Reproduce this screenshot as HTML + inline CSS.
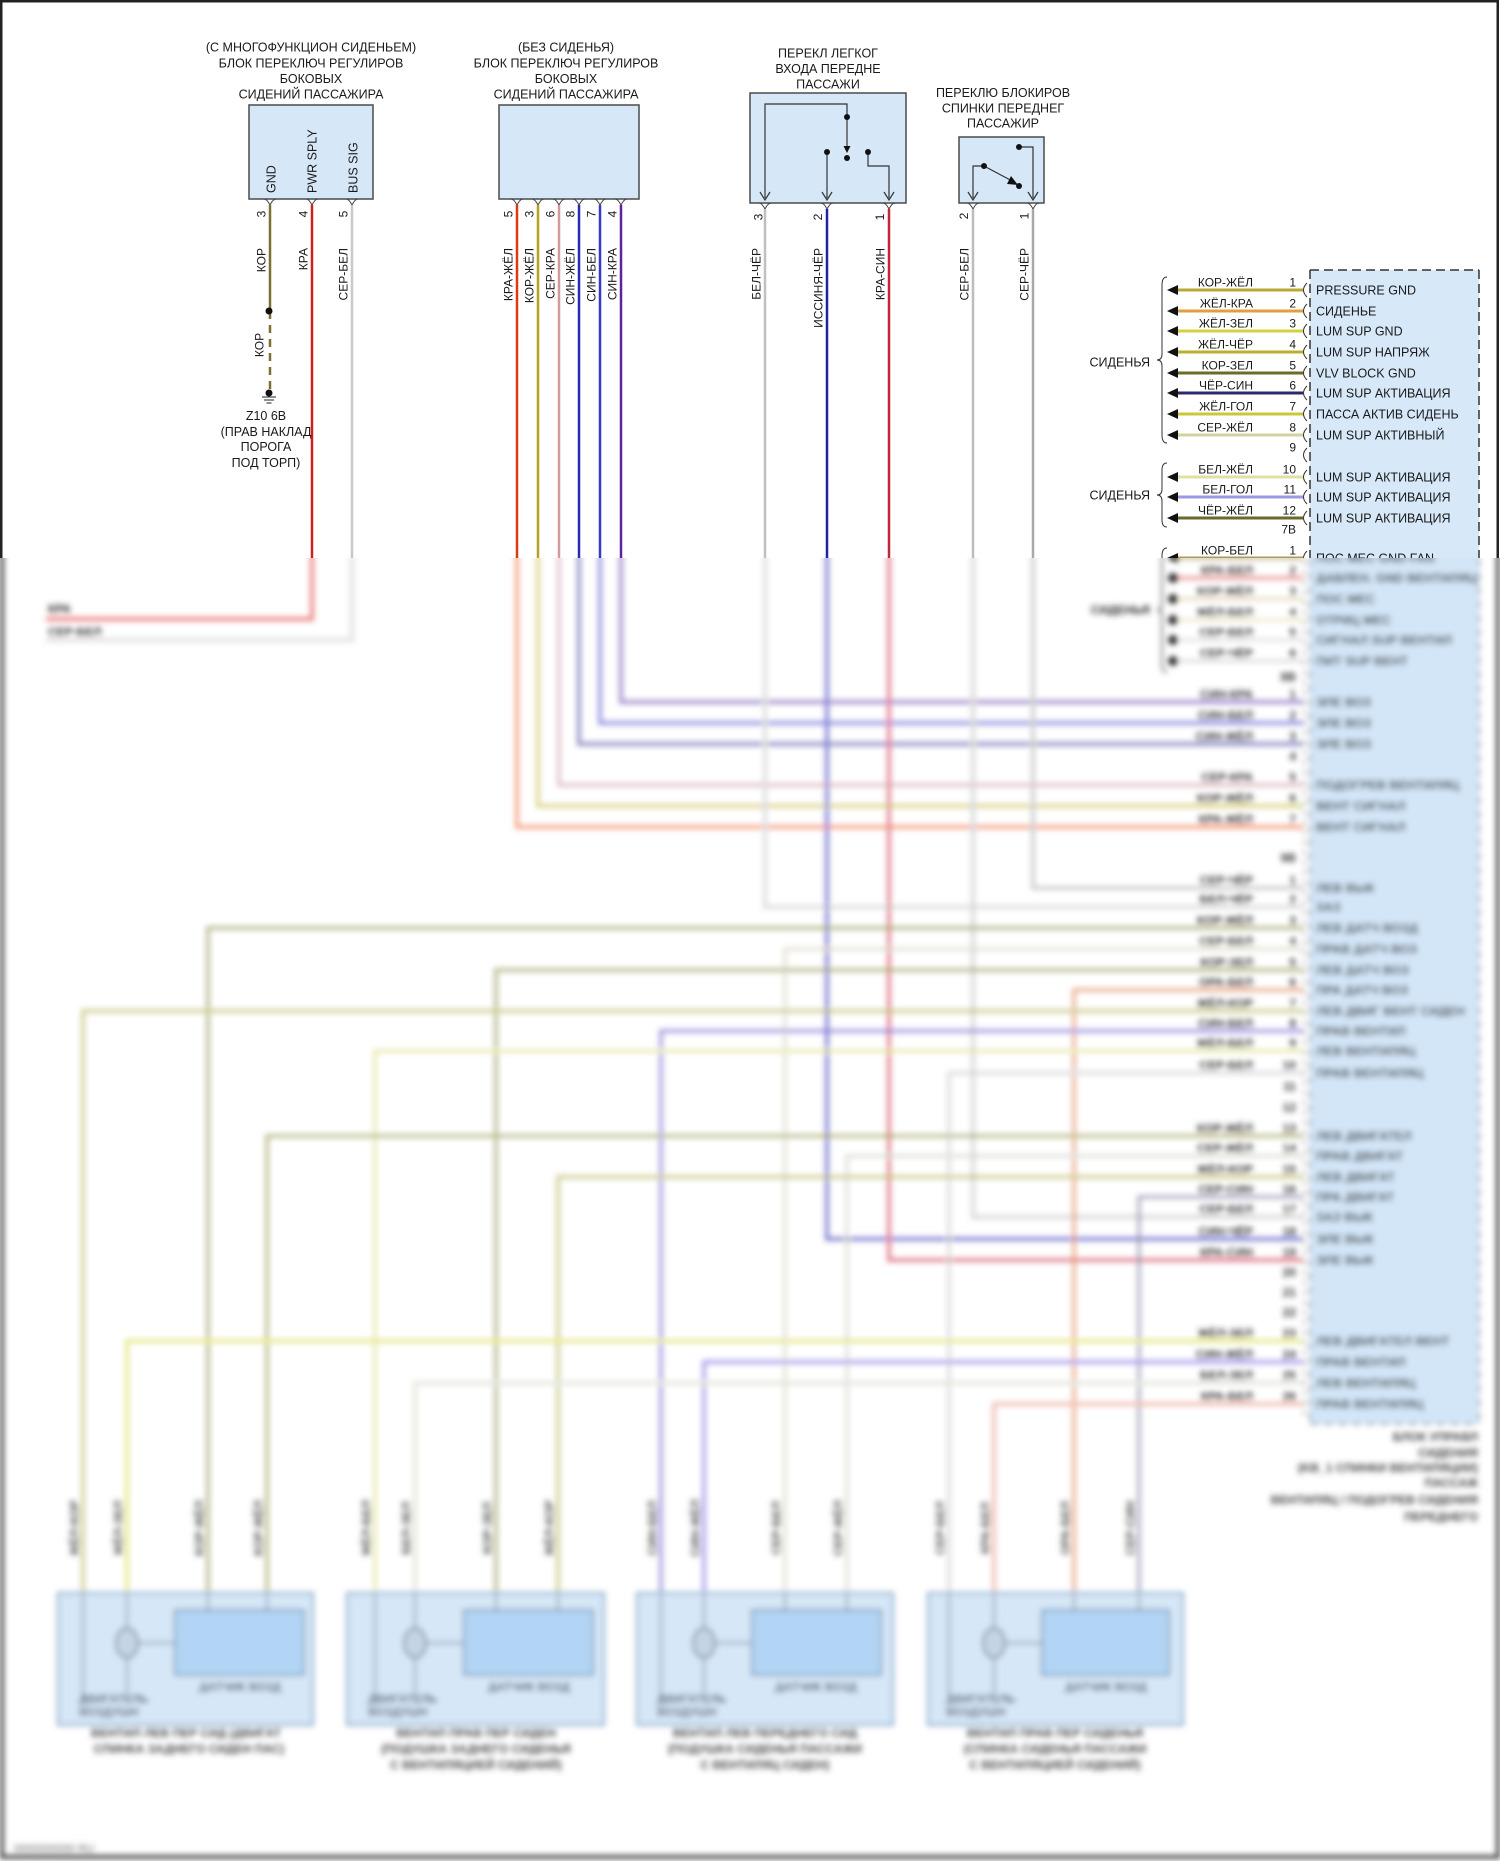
<!DOCTYPE html>
<html><head><meta charset="utf-8"><style>
html,body{margin:0;padding:0;background:#fff;width:1500px;height:1861px;overflow:hidden}
svg{display:block}
</style></head><body>
<svg width="1500" height="1861" viewBox="0 0 1500 1861" xmlns="http://www.w3.org/2000/svg" font-family="'Liberation Sans', 'DejaVu Sans', sans-serif">
<defs>
<clipPath id="ct"><rect x="0" y="0" width="1500" height="558"/></clipPath>
<clipPath id="cb"><rect x="0" y="558" width="1500" height="1303"/></clipPath>
<filter id="bl" x="-2%" y="-2%" width="104%" height="104%"><feGaussianBlur stdDeviation="2.9"/></filter>
</defs>
<rect width="1500" height="1861" fill="#fff"/>

<!-- ================= TOP (crisp) ================= -->
<g clip-path="url(#ct)">
<g font-size="12.5" fill="#1a1a1a" text-anchor="middle">
<text x="311" y="51.5">(С МНОГОФУНКЦИОН СИДЕНЬЕМ)</text>
<text x="311" y="67.5">БЛОК ПЕРЕКЛЮЧ РЕГУЛИРОВ</text>
<text x="311" y="83">БОКОВЫХ</text>
<text x="311" y="98.5">СИДЕНИЙ ПАССАЖИРА</text>
<text x="566" y="51.5">(БЕЗ СИДЕНЬЯ)</text>
<text x="566" y="67.5">БЛОК ПЕРЕКЛЮЧ РЕГУЛИРОВ</text>
<text x="566" y="83">БОКОВЫХ</text>
<text x="566" y="98.5">СИДЕНИЙ ПАССАЖИРА</text>
<text x="828" y="57.5">ПЕРЕКЛ ЛЕГКОГ</text>
<text x="828" y="73">ВХОДА ПЕРЕДНЕ</text>
<text x="828" y="88.5">ПАССАЖИ</text>
<text x="1003" y="97">ПЕРЕКЛЮ БЛОКИРОВ</text>
<text x="1003" y="112.5">СПИНКИ ПЕРЕДНЕГ</text>
<text x="1003" y="127.5">ПАССАЖИР</text>
</g>
<g fill="#d6e8f8" stroke="#4a4a4a" stroke-width="1.5">
<rect x="249" y="105" width="124" height="94"/>
<rect x="499" y="105" width="140" height="94"/>
<rect x="750" y="93" width="156" height="110"/>
<rect x="959" y="137" width="85" height="66"/>
</g>
<g font-size="12.5" fill="#1a1a1a">
<text transform="translate(275.3,193) rotate(-90)">GND</text>
<text transform="translate(316.3,193) rotate(-90)">PWR SPLY</text>
<text transform="translate(357.3,193) rotate(-90)">BUS SIG</text>
</g>
<g stroke="#333" stroke-width="1.2" fill="none">
<polyline points="765,198 765,104 847,104 847,117"/>
<line x1="847" y1="117" x2="847" y2="148"/>
<line x1="827" y1="152" x2="827" y2="198"/>
<polyline points="868,152 868,166 889,166 889,198"/>
<path d="M760,192 L765,200 L770,192 M822,192 L827,200 L832,192 M884,192 L889,200 L894,192"/>
<polyline points="1019,147 1033,147 1033,198"/>
<polyline points="973,198 973,166 984,166"/>
<line x1="984" y1="166" x2="1014" y2="182"/>
<path d="M968,192 L973,200 L978,192 M1028,192 L1033,200 L1038,192"/>
</g>
<g fill="#111">
<circle cx="847" cy="117" r="3"/><circle cx="847" cy="158" r="3"/>
<polygon points="843.5,146 850.5,146 847,153"/>
<circle cx="827" cy="152" r="3"/><circle cx="868" cy="152" r="3"/>
<circle cx="1019" cy="147" r="3"/><circle cx="984" cy="166" r="3"/><circle cx="1019" cy="186" r="3"/>
<polygon points="1011,176 1018,185 1007,184"/>
</g>
<g stroke="#444" stroke-width="1" fill="none">
<path d="M264,199 q3,0 6,6 q3,-6 6,-6 M306,199 q3,0 6,6 q3,-6 6,-6 M346,199 q3,0 6,6 q3,-6 6,-6"/>
<path d="M511,199 q3,0 6,6 q3,-6 6,-6 M532,199 q3,0 6,6 q3,-6 6,-6 M553,199 q3,0 6,6 q3,-6 6,-6 M573,199 q3,0 6,6 q3,-6 6,-6 M594,199 q3,0 6,6 q3,-6 6,-6 M615,199 q3,0 6,6 q3,-6 6,-6"/>
<path d="M759,203 q3,0 6,6 q3,-6 6,-6 M821,203 q3,0 6,6 q3,-6 6,-6 M883,203 q3,0 6,6 q3,-6 6,-6 M967,203 q3,0 6,6 q3,-6 6,-6 M1027,203 q3,0 6,6 q3,-6 6,-6"/>
</g>
<g stroke-width="2.5" fill="none">
<line x1="270" y1="205" x2="270" y2="311" stroke="#7d7035"/>
<line x1="270" y1="311" x2="270" y2="393" stroke="#7d7035" stroke-dasharray="8 6"/>
<line x1="312" y1="205" x2="312" y2="600" stroke="#d0201c"/>
<line x1="352" y1="205" x2="352" y2="600" stroke="#c8c8c8"/>
<line x1="517" y1="205" x2="517" y2="600" stroke="#dd3a10"/>
<line x1="538" y1="205" x2="538" y2="600" stroke="#b8a020"/>
<line x1="559" y1="205" x2="559" y2="600" stroke="#d49a9a"/>
<line x1="579" y1="205" x2="579" y2="600" stroke="#2a2ab0"/>
<line x1="600" y1="205" x2="600" y2="600" stroke="#3838c8"/>
<line x1="621" y1="205" x2="621" y2="600" stroke="#6020a0"/>
<line x1="765" y1="209" x2="765" y2="600" stroke="#c0c0c0"/>
<line x1="827" y1="209" x2="827" y2="600" stroke="#2020a8"/>
<line x1="889" y1="209" x2="889" y2="600" stroke="#c0283c"/>
<line x1="973" y1="209" x2="973" y2="600" stroke="#bdbdbd"/>
<line x1="1033" y1="209" x2="1033" y2="600" stroke="#a8a8a8"/>
</g>
<g fill="#111"><circle cx="269" cy="311" r="3.5"/><circle cx="269" cy="393" r="3.5"/></g>
<g stroke="#222" stroke-width="1"><line x1="262" y1="397" x2="276" y2="397"/><line x1="264" y1="400" x2="274" y2="400"/><line x1="266.5" y1="403" x2="271.5" y2="403"/></g>
<g font-size="12.5" fill="#1a1a1a" text-anchor="middle">
<text x="266" y="420">Z10 6B</text>
<text x="266" y="436">(ПРАВ НАКЛАД</text>
<text x="266" y="451">ПОРОГА</text>
<text x="266" y="467">ПОД ТОРП)</text>
</g>
<g font-size="12" fill="#1a1a1a" text-anchor="middle">
<text transform="translate(265.5,214) rotate(-90)">3</text>
<text transform="translate(307.5,214) rotate(-90)">4</text>
<text transform="translate(347.5,214) rotate(-90)">5</text>
<text transform="translate(512.5,214) rotate(-90)">5</text>
<text transform="translate(533.5,214) rotate(-90)">3</text>
<text transform="translate(554.5,214) rotate(-90)">6</text>
<text transform="translate(574.5,214) rotate(-90)">8</text>
<text transform="translate(595.5,214) rotate(-90)">7</text>
<text transform="translate(616.5,214) rotate(-90)">4</text>
<text transform="translate(762.5,217) rotate(-90)">3</text>
<text transform="translate(822,217) rotate(-90)">2</text>
<text transform="translate(884,217) rotate(-90)">1</text>
<text transform="translate(968,216) rotate(-90)">2</text>
<text transform="translate(1028.5,216) rotate(-90)">1</text>
</g>
<g font-size="12" fill="#1a1a1a" text-anchor="end">
<text transform="translate(265.5,248) rotate(-90)">КОР</text>
<text transform="translate(307.5,248) rotate(-90)">КРА</text>
<text transform="translate(347.5,248) rotate(-90)">СЕР-БЕЛ</text>
<text transform="translate(512.5,248) rotate(-90)">КРА-ЖЁЛ</text>
<text transform="translate(533.5,248) rotate(-90)">КОР-ЖЁЛ</text>
<text transform="translate(554.5,248) rotate(-90)">СЕР-КРА</text>
<text transform="translate(574.5,248) rotate(-90)">СИН-ЖЁЛ</text>
<text transform="translate(595.5,248) rotate(-90)">СИН-БЕЛ</text>
<text transform="translate(616.5,248) rotate(-90)">СИН-КРА</text>
<text transform="translate(760.5,248) rotate(-90)">БЕЛ-ЧЁР</text>
<text transform="translate(822.5,248) rotate(-90)">ИССИНЯ-ЧЁР</text>
<text transform="translate(884.5,248) rotate(-90)">КРА-СИН</text>
<text transform="translate(968.5,248) rotate(-90)">СЕР-БЕЛ</text>
<text transform="translate(1028.5,248) rotate(-90)">СЕР-ЧЁР</text>
</g>
<text transform="translate(263.5,345) rotate(-90)" font-size="12" fill="#1a1a1a" text-anchor="middle">КОР</text>

<rect x="1310" y="270" width="169" height="300" fill="#d7e9f9"/>
<g stroke="#333" stroke-width="1.5" stroke-dasharray="9 5" fill="none">
<line x1="1310" y1="270" x2="1479" y2="270"/>
<line x1="1310" y1="270" x2="1310" y2="570"/>
<line x1="1479" y1="270" x2="1479" y2="570"/>
</g>
<g stroke-width="3" fill="none">
<line x1="1176" y1="290" x2="1303" y2="290" stroke="#b8a838"/>
<line x1="1176" y1="311" x2="1303" y2="311" stroke="#e0a040"/>
<line x1="1176" y1="331" x2="1303" y2="331" stroke="#d4d040"/>
<line x1="1176" y1="352" x2="1303" y2="352" stroke="#b8b030"/>
<line x1="1176" y1="373" x2="1303" y2="373" stroke="#6b6b2a"/>
<line x1="1176" y1="393" x2="1303" y2="393" stroke="#2a2a6a"/>
<line x1="1176" y1="414" x2="1303" y2="414" stroke="#c8c838"/>
<line x1="1176" y1="435" x2="1303" y2="435" stroke="#d2d2a0"/>
<line x1="1176" y1="477" x2="1303" y2="477" stroke="#e0e0a0"/>
<line x1="1176" y1="497" x2="1303" y2="497" stroke="#9a9ae0"/>
<line x1="1176" y1="518" x2="1303" y2="518" stroke="#6a6a2a"/>
<line x1="1176" y1="558" x2="1303" y2="558" stroke="#a89a60"/>
</g>
<g fill="#111">
<polygon points="1167,290 1178,285 1178,295"/>
<polygon points="1167,311 1178,306 1178,316"/>
<polygon points="1167,331 1178,326 1178,336"/>
<polygon points="1167,352 1178,347 1178,357"/>
<polygon points="1167,373 1178,368 1178,378"/>
<polygon points="1167,393 1178,388 1178,398"/>
<polygon points="1167,414 1178,409 1178,419"/>
<polygon points="1167,435 1178,430 1178,440"/>
<polygon points="1167,477 1178,472 1178,482"/>
<polygon points="1167,497 1178,492 1178,502"/>
<polygon points="1167,518 1178,513 1178,523"/>
<polygon points="1167,558 1178,553 1178,563"/>
</g>
<g stroke="#333" stroke-width="1" fill="none">
<path d="M1307,283 Q1300,290 1307,297 M1307,304 Q1300,311 1307,318 M1307,324 Q1300,331 1307,338 M1307,345 Q1300,352 1307,359 M1307,366 Q1300,373 1307,380 M1307,386 Q1300,393 1307,400 M1307,407 Q1300,414 1307,421 M1307,428 Q1300,435 1307,442 M1307,448 Q1300,455 1307,462 M1307,470 Q1300,477 1307,484 M1307,490 Q1300,497 1307,504 M1307,511 Q1300,518 1307,525 M1307,551 Q1300,558 1307,565"/>
<path d="M1167,277 Q1162,277 1162,285 L1162,354 Q1162,360 1157,360 Q1162,360 1162,366 L1162,435 Q1162,443 1167,443"/>
<path d="M1167,463 Q1162,463 1162,470 L1162,489 Q1162,495 1157,495 Q1162,495 1162,501 L1162,520 Q1162,527 1167,527"/>
<path d="M1167,548 Q1162,548 1162,556 L1162,604"/>
</g>
<g font-size="12" fill="#1a1a1a">
<text x="1150" y="366.5" text-anchor="end" font-size="12.5">СИДЕНЬЯ</text>
<text x="1150" y="499.5" text-anchor="end" font-size="12.5">СИДЕНЬЯ</text>
<g text-anchor="end">
<text x="1253" y="286.5">КОР-ЖЁЛ</text><text x="1296" y="286.5">1</text>
<text x="1253" y="307.5">ЖЁЛ-КРА</text><text x="1296" y="307.5">2</text>
<text x="1253" y="327.5">ЖЁЛ-ЗЕЛ</text><text x="1296" y="327.5">3</text>
<text x="1253" y="348.5">ЖЁЛ-ЧЁР</text><text x="1296" y="348.5">4</text>
<text x="1253" y="369.5">КОР-ЗЕЛ</text><text x="1296" y="369.5">5</text>
<text x="1253" y="389.5">ЧЁР-СИН</text><text x="1296" y="389.5">6</text>
<text x="1253" y="410.5">ЖЁЛ-ГОЛ</text><text x="1296" y="410.5">7</text>
<text x="1253" y="431.5">СЕР-ЖЁЛ</text><text x="1296" y="431.5">8</text>
<text x="1296" y="451.5">9</text>
<text x="1253" y="473.5">БЕЛ-ЖЁЛ</text><text x="1296" y="473.5">10</text>
<text x="1253" y="493.5">БЕЛ-ГОЛ</text><text x="1296" y="493.5">11</text>
<text x="1253" y="514.5">ЧЁР-ЖЁЛ</text><text x="1296" y="514.5">12</text>
<text x="1296" y="533.5">7B</text>
<text x="1253" y="554.5">КОР-БЕЛ</text><text x="1296" y="554.5">1</text>
</g>
<g font-size="12.5">
<text x="1316" y="294.5">PRESSURE GND</text>
<text x="1316" y="315.5">СИДЕНЬЕ</text>
<text x="1316" y="335.5">LUM SUP GND</text>
<text x="1316" y="356.5">LUM SUP НАПРЯЖ</text>
<text x="1316" y="377.5">VLV BLOCK GND</text>
<text x="1316" y="397.5">LUM SUP АКТИВАЦИЯ</text>
<text x="1316" y="418.5">ПАССА АКТИВ СИДЕНЬ</text>
<text x="1316" y="439.5">LUM SUP АКТИВНЫЙ</text>
<text x="1316" y="481.5">LUM SUP АКТИВАЦИЯ</text>
<text x="1316" y="501.5">LUM SUP АКТИВАЦИЯ</text>
<text x="1316" y="522.5">LUM SUP АКТИВАЦИЯ</text>
<text x="1316" y="562.5">ПОС МЕС GND FAN</text>
</g>
</g>
<rect x="1.25" y="1.25" width="1496.5" height="1856" fill="none" stroke="#222" stroke-width="2.5"/>
</g>

<!-- ================= BOTTOM (blurred) ================= -->
<g clip-path="url(#cb)"><g filter="url(#bl)">
<rect x="1310" y="530" width="169" height="894" fill="#d3e6f8"/>
<g stroke="#777" stroke-width="1.5" stroke-dasharray="9 5" fill="none">
<line x1="1310" y1="530" x2="1310" y2="1424"/>
<line x1="1479" y1="530" x2="1479" y2="1424"/>
<line x1="1310" y1="1424" x2="1479" y2="1424"/>
</g>
<g stroke-width="4" fill="none" opacity="0.62">
<path d="M312,530 V619 H46" stroke="#e03838"/>
<path d="M352,530 V640 H46" stroke="#cfcfcf"/>
<path d="M621,530 V702 H1303" stroke="#7050b0"/>
<path d="M600,530 V723 H1303" stroke="#5a58d0"/>
<path d="M579,530 V744 H1303" stroke="#5050a8"/>
<path d="M559,530 V785 H1303" stroke="#d0a0a8"/>
<path d="M538,530 V806 H1303" stroke="#c8bc50"/>
<path d="M517,530 V827 H1303" stroke="#f07040"/>
<path d="M765,530 V907 H1303" stroke="#c8c8c8"/>
<path d="M827,530 V1239 H1303" stroke="#3838b8"/>
<path d="M889,530 V1260 H1303" stroke="#d03850"/>
<path d="M973,530 V1217 H1303" stroke="#c0c0c0"/>
<path d="M1033,530 V888 H1303" stroke="#b0b0b0"/>
</g>
<g stroke-width="4" fill="none" opacity="0.62">
<path d="M1303,928 H208 V1600" stroke="#98985a"/>
<path d="M1303,949 H785 V1600" stroke="#d8d4c0"/>
<path d="M1303,970 H496 V1600" stroke="#98985a"/>
<path d="M1303,990 H1074 V1600" stroke="#e08a60"/>
<path d="M1303,1011 H83 V1600" stroke="#b8b460"/>
<path d="M1303,1031 H661 V1600" stroke="#7a6ad0"/>
<path d="M1303,1051 H375 V1600" stroke="#e0e090"/>
<path d="M1303,1073 H949 V1600" stroke="#cccccc"/>
<path d="M1303,1136 H267 V1600" stroke="#9c9c58"/>
<path d="M1303,1156 H847 V1600" stroke="#d0d4c8"/>
<path d="M1303,1177 H558 V1600" stroke="#b8b460"/>
<path d="M1303,1197 H1139 V1600" stroke="#8888a8"/>
<path d="M1303,1341 H127 V1600" stroke="#dcdc50"/>
<path d="M1303,1362 H704 V1600" stroke="#8070e0"/>
<path d="M1303,1383 H415 V1600" stroke="#d4d8c8"/>
<path d="M1303,1404 H994 V1600" stroke="#e89a88"/>
</g>
<g stroke-width="3.5" fill="none" opacity="0.7">
<line x1="1176" y1="558" x2="1303" y2="558" stroke="#a89a60"/>
<line x1="1176" y1="578" x2="1303" y2="578" stroke="#e07070"/>
<line x1="1176" y1="599" x2="1303" y2="599" stroke="#e0d0b0"/>
<line x1="1176" y1="620" x2="1303" y2="620" stroke="#e8e0c0"/>
<line x1="1176" y1="640" x2="1303" y2="640" stroke="#d8d8d8"/>
<line x1="1176" y1="661" x2="1303" y2="661" stroke="#d0d0d0"/>
</g>
<polygon points="1167,558 1178,553 1178,563" fill="#111"/>
<g fill="#333">
<circle cx="1173" cy="578" r="5"/><circle cx="1173" cy="599" r="5"/><circle cx="1173" cy="620" r="5"/><circle cx="1173" cy="640" r="5"/><circle cx="1173" cy="661" r="5"/>
</g>
<path d="M1167,548 Q1162,548 1162,556 L1162,604 Q1162,610 1157,610 Q1162,610 1162,616 L1162,664 Q1162,672 1167,672" stroke="#555" stroke-width="1.5" fill="none"/>
<path d="M1304,540 V1420" stroke="#999" stroke-width="1.5" stroke-dasharray="5 5" fill="none"/>
<g font-size="12" fill="#333" font-weight="bold">
<text x="1150" y="614" text-anchor="end">СИДЕНЬЯ</text>
<text x="48" y="613">КРА</text>
<text x="48" y="636">СЕР-БЕЛ</text>
<g text-anchor="end">
<text x="1253" y="554.5">КОР-БЕЛ</text><text x="1296" y="554.5">1</text>
<text x="1253" y="574.5">КРА-БЕЛ</text><text x="1296" y="574.5">2</text>
<text x="1253" y="595.5">КОР-ЖЁЛ</text><text x="1296" y="595.5">3</text>
<text x="1253" y="616.5">ЖЁЛ-БЕЛ</text><text x="1296" y="616.5">4</text>
<text x="1253" y="636.5">СЕР-БЕЛ</text><text x="1296" y="636.5">5</text>
<text x="1253" y="657.5">СЕР-ЧЁР</text><text x="1296" y="657.5">6</text>
<text x="1296" y="681">8B</text>
<text x="1253" y="698.5">СИН-КРА</text><text x="1296" y="698.5">1</text>
<text x="1253" y="719.5">СИН-БЕЛ</text><text x="1296" y="719.5">2</text>
<text x="1253" y="740.5">СИН-ЖЁЛ</text><text x="1296" y="740.5">3</text>
<text x="1296" y="760.5">4</text>
<text x="1253" y="781.5">СЕР-КРА</text><text x="1296" y="781.5">5</text>
<text x="1253" y="802.5">КОР-ЖЁЛ</text><text x="1296" y="802.5">6</text>
<text x="1253" y="823.5">КРА-ЖЁЛ</text><text x="1296" y="823.5">7</text>
<text x="1296" y="862">9B</text>
<text x="1253" y="884.5">СЕР-ЧЁР</text><text x="1296" y="884.5">1</text>
<text x="1253" y="903.5">БЕЛ-ЧЁР</text><text x="1296" y="903.5">2</text>
<text x="1253" y="924.5">КОР-ЖЁЛ</text><text x="1296" y="924.5">3</text>
<text x="1253" y="945.5">СЕР-БЕЛ</text><text x="1296" y="945.5">4</text>
<text x="1253" y="966.5">КОР-ЗЕЛ</text><text x="1296" y="966.5">5</text>
<text x="1253" y="986.5">ОРА-БЕЛ</text><text x="1296" y="986.5">6</text>
<text x="1253" y="1007.5">ЖЁЛ-КОР</text><text x="1296" y="1007.5">7</text>
<text x="1253" y="1027.5">СИН-БЕЛ</text><text x="1296" y="1027.5">8</text>
<text x="1253" y="1047.5">ЖЁЛ-БЕЛ</text><text x="1296" y="1047.5">9</text>
<text x="1253" y="1069.5">СЕР-БЕЛ</text><text x="1296" y="1069.5">10</text>
<text x="1296" y="1090.5">11</text>
<text x="1296" y="1111.5">12</text>
<text x="1253" y="1132.5">КОР-ЖЁЛ</text><text x="1296" y="1132.5">13</text>
<text x="1253" y="1152.5">СЕР-ЖЁЛ</text><text x="1296" y="1152.5">14</text>
<text x="1253" y="1173.5">ЖЁЛ-КОР</text><text x="1296" y="1173.5">15</text>
<text x="1253" y="1193.5">СЕР-СИН</text><text x="1296" y="1193.5">16</text>
<text x="1253" y="1213.5">СЕР-БЕЛ</text><text x="1296" y="1213.5">17</text>
<text x="1253" y="1235.5">СИН-ЧЁР</text><text x="1296" y="1235.5">18</text>
<text x="1253" y="1256.5">КРА-СИН</text><text x="1296" y="1256.5">19</text>
<text x="1296" y="1276.5">20</text>
<text x="1296" y="1296.5">21</text>
<text x="1296" y="1316.5">22</text>
<text x="1253" y="1337.5">ЖЁЛ-ЗЕЛ</text><text x="1296" y="1337.5">23</text>
<text x="1253" y="1358.5">СИН-ЖЁЛ</text><text x="1296" y="1358.5">24</text>
<text x="1253" y="1379.5">БЕЛ-ЗЕЛ</text><text x="1296" y="1379.5">25</text>
<text x="1253" y="1400.5">КРА-БЕЛ</text><text x="1296" y="1400.5">26</text>
</g>
</g>
<g font-size="12.5" fill="#2a2a2a" font-weight="bold">
<text x="1316" y="562.5">ПОС МЕС GND FAN</text>
<text x="1316" y="582.5">ДАВЛЕН. GND ВЕНТИЛЯЦ</text>
<text x="1316" y="603.5">ПОС МЕС</text>
<text x="1316" y="624.5">ОТРИЦ МЕС</text>
<text x="1316" y="644.5">СИГНАЛ SUP ВЕНТИЛ</text>
<text x="1316" y="665.5">ПИТ SUP ВЕНТ</text>
<text x="1316" y="706.5">ЭЛЕ ВОЗ</text>
<text x="1316" y="727.5">ЭЛЕ ВОЗ</text>
<text x="1316" y="748.5">ЭЛЕ ВОЗ</text>
<text x="1316" y="789.5">ПОДОГРЕВ ВЕНТИЛЯЦ</text>
<text x="1316" y="810.5">ВЕНТ СИГНАЛ</text>
<text x="1316" y="831.5">ВЕНТ СИГНАЛ</text>
<text x="1316" y="892.5">ЛЕВ ВЫК</text>
<text x="1316" y="911.5">ЗАЗ</text>
<text x="1316" y="932.5">ЛЕВ ДАТЧ ВОЗД</text>
<text x="1316" y="953.5">ПРАВ ДАТЧ ВОЗ</text>
<text x="1316" y="974.5">ЛЕВ ДАТЧ ВОЗ</text>
<text x="1316" y="994.5">ПРА ДАТЧ ВОЗ</text>
<text x="1316" y="1015.5">ЛЕВ ДВИГ ВЕНТ СИДЕН</text>
<text x="1316" y="1035.5">ПРАВ ВЕНТИЛ</text>
<text x="1316" y="1055.5">ЛЕВ ВЕНТИЛЯЦ</text>
<text x="1316" y="1077.5">ПРАВ ВЕНТИЛЯЦ</text>
<text x="1316" y="1140.5">ЛЕВ ДВИГАТЕЛ</text>
<text x="1316" y="1160.5">ПРАВ ДВИГАТ</text>
<text x="1316" y="1181.5">ЛЕВ ДВИГАТ</text>
<text x="1316" y="1201.5">ПРА ДВИГАТ</text>
<text x="1316" y="1221.5">ЗАЗ ВЫК</text>
<text x="1316" y="1243.5">ЭЛЕ ВЫК</text>
<text x="1316" y="1264.5">ЭЛЕ ВЫК</text>
<text x="1316" y="1345.5">ЛЕВ ДВИГАТЕЛ ВЕНТ</text>
<text x="1316" y="1366.5">ПРАВ ВЕНТИЛ</text>
<text x="1316" y="1387.5">ЛЕВ ВЕНТИЛЯЦ</text>
<text x="1316" y="1408.5">ПРАВ ВЕНТИЛЯЦ</text>
</g>
<g text-anchor="end" font-size="12" fill="#444" font-weight="bold">
<text x="1478" y="1441">БЛОК УПРАВЛ</text>
<text x="1478" y="1457">СИДЕНИЯ</text>
<text x="1478" y="1472">(KB_1 СПИНКИ ВЕНТИЛЯЦИИ)</text>
<text x="1478" y="1487">ПАССАЖ</text>
<text x="1478" y="1504">ВЕНТИЛЯЦ / ПОДОГРЕВ СИДЕНИЯ</text>
<text x="1478" y="1521">ПЕРЕДНЕГО</text>
</g>

<g>
<g fill="#d6e7f7" stroke="#98b4d0" stroke-width="2.5">
<rect x="58" y="1593" width="255" height="132"/>
<rect x="347" y="1593" width="257" height="132"/>
<rect x="637" y="1593" width="256" height="132"/>
<rect x="928" y="1593" width="255" height="132"/>
</g>
<g fill="#b2d5f5" stroke="#7a98b8" stroke-width="2">
<rect x="175" y="1610" width="129" height="65"/>
<rect x="464" y="1610" width="129" height="65"/>
<rect x="752" y="1610" width="129" height="65"/>
<rect x="1042" y="1610" width="127" height="65"/>
</g>
<g stroke="#8a9ab0" stroke-width="2" fill="none">
<path d="M83,1595 V1700 M127,1595 V1693 M208,1595 V1612 M267,1595 V1612 M139,1643 H175"/>
<path d="M375,1595 V1700 M415,1595 V1693 M496,1595 V1612 M558,1595 V1612 M427,1643 H464"/>
<path d="M661,1595 V1700 M704,1595 V1693 M785,1595 V1612 M847,1595 V1612 M716,1643 H752"/>
<path d="M949,1595 V1700 M994,1595 V1693 M1074,1595 V1612 M1139,1595 V1612 M1006,1643 H1042"/>
</g>
<g fill="#c4d4e4" stroke="#7a8aa0" stroke-width="2">
<ellipse cx="127" cy="1643" rx="11" ry="15"/>
<ellipse cx="415" cy="1643" rx="11" ry="15"/>
<ellipse cx="704" cy="1643" rx="11" ry="15"/>
<ellipse cx="994" cy="1643" rx="11" ry="15"/>
</g>
<g font-size="11.5" font-weight="bold" fill="#4a5870">
<text x="79" y="1703">ДВИГАТЕЛЬ</text><text x="79" y="1716">ВОЗДУШН</text>
<text x="368" y="1703">ДВИГАТЕЛЬ</text><text x="368" y="1716">ВОЗДУШН</text>
<text x="657" y="1703">ДВИГАТЕЛЬ</text><text x="657" y="1716">ВОЗДУШН</text>
<text x="946" y="1703">ДВИГАТЕЛЬ</text><text x="946" y="1716">ВОЗДУШН</text>
</g>
<g font-size="11.5" font-weight="bold" fill="#4a5870" text-anchor="middle">
<text x="240" y="1691">ДАТЧИК ВОЗД</text>
<text x="529" y="1691">ДАТЧИК ВОЗД</text>
<text x="816" y="1691">ДАТЧИК ВОЗД</text>
<text x="1106" y="1691">ДАТЧИК ВОЗД</text>
</g>
<g font-size="12" fill="#4a4a4a" text-anchor="middle" font-weight="bold">
<text x="186" y="1737">ВЕНТИЛ ЛЕВ ПЕР СИД (ДВИГАТ</text>
<text x="189" y="1753">СПИНКА ЗАДНЕГО СИДЕН ПАС)</text>
<text x="476" y="1737">ВЕНТИЛ ПРАВ ПЕР СИДЕН</text>
<text x="476" y="1753">(ПОДУШКА ЗАДНЕГО СИДЕНЬЯ</text>
<text x="476" y="1769">С ВЕНТИЛЯЦИЕЙ СИДЕНИЙ)</text>
<text x="765" y="1737">ВЕНТИЛ ЛЕВ ПЕРЕДНЕГО СИД</text>
<text x="765" y="1753">(ПОДУШКА СИДЕНЬЯ ПАССАЖИ</text>
<text x="765" y="1769">С ВЕНТИЛЯЦ СИДЕН)</text>
<text x="1055" y="1737">ВЕНТИЛ ПРАВ ПЕР СИДЕНЬЯ</text>
<text x="1055" y="1753">(СПИНКА СИДЕНЬЯ ПАССАЖИ</text>
<text x="1055" y="1769">С ВЕНТИЛЯЦИЕЙ СИДЕНИЙ)</text>
</g>
<g font-size="12" fill="#555" text-anchor="middle" font-weight="bold">
<text transform="translate(78.5,1528) rotate(-90)">ЖЁЛ-КОР</text>
<text transform="translate(122.5,1528) rotate(-90)">ЖЁЛ-ЗЕЛ</text>
<text transform="translate(203.5,1528) rotate(-90)">КОР-ЖЁЛ</text>
<text transform="translate(262.5,1528) rotate(-90)">КОР-ЖЁЛ</text>
<text transform="translate(370.5,1528) rotate(-90)">ЖЁЛ-БЕЛ</text>
<text transform="translate(410.5,1528) rotate(-90)">БЕЛ-ЗЕЛ</text>
<text transform="translate(491.5,1528) rotate(-90)">КОР-ЗЕЛ</text>
<text transform="translate(553.5,1528) rotate(-90)">ЖЁЛ-КОР</text>
<text transform="translate(656.5,1528) rotate(-90)">СИН-БЕЛ</text>
<text transform="translate(699.5,1528) rotate(-90)">СИН-ЖЁЛ</text>
<text transform="translate(780.5,1528) rotate(-90)">СЕР-БЕЛ</text>
<text transform="translate(842.5,1528) rotate(-90)">СЕР-ЖЁЛ</text>
<text transform="translate(944.5,1528) rotate(-90)">СЕР-БЕЛ</text>
<text transform="translate(989.5,1528) rotate(-90)">КРА-БЕЛ</text>
<text transform="translate(1069.5,1528) rotate(-90)">ОРА-БЕЛ</text>
<text transform="translate(1134.5,1528) rotate(-90)">СЕР-СИН</text>
</g>
<text x="14" y="1852" font-size="11" fill="#666">0000000000 RU</text>
</g>
<g stroke="#444" stroke-width="4" fill="none">
<line x1="2" y1="530" x2="2" y2="1859"/>
<line x1="1498" y1="530" x2="1498" y2="1859"/>
<line x1="0" y1="1857" x2="1500" y2="1857"/>
</g>
</g></g>
</svg>
</body></html>
